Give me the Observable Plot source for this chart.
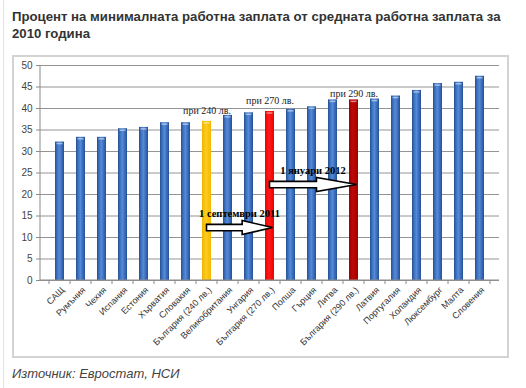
<!DOCTYPE html>
<html><head><meta charset="utf-8">
<script src="https://cdn.jsdelivr.net/npm/d3@7"></script>
<script src="https://cdn.jsdelivr.net/npm/@observablehq/plot@0.6"></script>
<style>
html,body{margin:0;padding:0;background:#fff;}
body{width:526px;height:388px;position:relative;overflow:hidden;font-family:"Liberation Sans",Arial,sans-serif;}
#edge{position:absolute;left:3px;top:0;width:1px;height:388px;background:#e4e4e4;}
#title{position:absolute;left:12px;top:8px;white-space:nowrap;font-weight:bold;font-size:13.2px;line-height:17px;color:#333;}
#chart{position:absolute;left:12px;top:55px;}
#frame{position:absolute;left:12px;top:55px;width:497px;height:303px;box-sizing:border-box;border:2px solid #d3d3d3;pointer-events:none;}
#caption{position:absolute;left:12px;top:366px;font-style:italic;font-size:13px;line-height:15px;color:#444;white-space:nowrap;}
</style></head>
<body>
<div id="edge"></div>
<div id="title">Процент на минималната работна заплата от средната работна заплата за<br>2010 година</div>
<div id="chart"></div>
<div id="frame"></div>
<div id="caption">Източник: Евростат, НСИ</div>
<script>
const categories = ["САЩ","Румъния","Чехия","Испания","Естония","Хърватия","Словакия","България (240 лв.)","Великобритания","Унгария","България (270 лв.)","Полша","Гърция","Литва","България (290 лв.)","Латвия","Португалия","Холандия","Люксембург","Малта","Словения"];
const values = [32.2,33.3,33.3,35.3,35.6,36.7,36.7,37.0,38.4,39.0,39.3,39.8,40.4,42.0,42.0,42.2,42.9,44.2,45.8,46.1,47.5];
const yTicks = [0,5,10,15,20,25,30,35,40,45,50];

const noteLabels = ["при 240 лв.","при 270 лв.","при 290 лв."];
const noteCountries = ["България (240 лв.)","България (270 лв.)","България (290 лв.)"];
const noteY = [39.5,41.9,43.4];

const arrowLabels = ["1 септември 2011","1 януари 2012"];
const arrowFrom = ["България (240 лв.)","България (270 лв.)"];
const arrowTo = ["България (270 лв.)","България (290 лв.)"];
const arrowY = [12.2,22.2];
const arrowLabelY = [15.5,25.6];

const data = categories.map((c,i)=>({country:c, value:values[i]}));
const notes = noteLabels.map((t,i)=>({text:t, country:noteCountries[i], y:noteY[i]}));
const arrows = arrowLabels.map((t,i)=>({text:t, from:arrowFrom[i], to:arrowTo[i], y:arrowY[i], labelY:arrowLabelY[i]}));

const special = {"България (240 лв.)":"url(#gYellow)","България (270 лв.)":"url(#gRed)","България (290 лв.)":"url(#gDark)"};

function defs() {
  const d = d3.create("svg:defs");
  const mk = (id, stops) => {
    const g = d.append("linearGradient").attr("id", id).attr("x1","0").attr("x2","1").attr("y1","0").attr("y2","0");
    stops.forEach(([o,c]) => g.append("stop").attr("offset", o).attr("stop-color", c));
  };
  mk("gBlue", [[0,"#26508f"],[0.3,"#4379c8"],[0.5,"#5389d8"],[0.8,"#3667b5"],[1,"#26508f"]]);
  mk("gYellow", [[0,"#f0b400"],[0.45,"#ffcc20"],[1,"#f2b600"]]);
  mk("gRed", [[0,"#ee0000"],[0.45,"#ff1a1a"],[1,"#ee0000"]]);
  mk("gDark", [[0,"#a30000"],[0.45,"#c00808"],[1,"#a00000"]]);
  return d.node();
}

function decor(index, scales, values, dimensions) {
  const x = scales.x, y = scales.y;
  const {width, height, marginLeft, marginRight, marginTop, marginBottom} = dimensions;
  const bw = x.bandwidth(), step = x.step();
  const g = d3.create("svg:g");
  const yb = height - marginBottom;
  g.append("line").attr("x1", marginLeft).attr("x2", marginLeft).attr("y1", marginTop).attr("y2", yb).attr("stroke", "#8a8a8a");
  g.append("line").attr("x1", marginLeft).attr("x2", width - marginRight).attr("y1", yb).attr("y2", yb).attr("stroke", "#8a8a8a");
  const bounds = categories.map(c => x(c) + bw/2 - step/2);
  bounds.push(x(categories[categories.length-1]) + bw/2 + step/2);
  bounds.forEach(b => g.append("line").attr("x1", b).attr("x2", b).attr("y1", yb).attr("y2", yb + 4).attr("stroke", "#8a8a8a"));
  arrows.forEach(a => {
    const xs = x(a.from) + bw/2, xe = x(a.to) + bw/2 + 3;
    const yc = y(a.y);
    const L = xe - xs, hx = xe - L*0.46;
    const sh = 3.2, hh = 7;
    const pts = [[xs,yc-sh],[hx,yc-sh],[hx,yc-hh],[xe,yc],[hx,yc+hh],[hx,yc+sh],[xs,yc+sh]];
    g.append("polygon").attr("points", pts.map(p => p.join(",")).join(" "))
      .attr("fill", "#fff").attr("stroke", "#000").attr("stroke-width", 1.6).attr("stroke-linejoin", "miter");
    g.append("text").attr("x", (xs+xe)/2).attr("y", y(a.labelY)).attr("dy", "0.35em")
      .attr("text-anchor", "middle").attr("font-family", "Liberation Serif, Times New Roman, serif")
      .attr("font-weight", "bold").attr("font-size", 10.5).attr("fill", "#000").text(a.text);
  });
  return g.node();
}

const plot = Plot.plot({
  width: 497, height: 303,
  marginLeft: 28, marginRight: 10, marginTop: 10, marginBottom: 78,
  style: {background: "transparent", fontFamily: "Liberation Sans, Arial, sans-serif", color: "#333"},
  x: {type: "band", domain: categories, paddingInner: 0.58, paddingOuter: 0.29, label: null},
  y: {domain: [0, 50], label: null},
  marks: [
    defs,
    Plot.gridY(yTicks, {stroke: "#949494", strokeOpacity: 1}),
    Plot.barY(data.filter(d => !special[d.country]), {x: "country", y: "value", fill: "url(#gBlue)"}),
    ...Object.keys(special).map(k => Plot.barY(data.filter(d => d.country === k), {x: "country", y: "value", fill: special[k]})),
    Plot.tickY(data, {x: "country", y: "value", stroke: "#ffffff", strokeOpacity: 0.5, strokeWidth: 1.5, dy: 1.5, inset: 1.5}),
    Plot.axisY({ticks: yTicks, tickSize: 4, tickPadding: 4, fontSize: 10, stroke: "#8a8a8a", fill: "#444"}),
    Plot.axisX({tickRotate: -45, tickSize: 0, tickPadding: 8, fontSize: 9, dx: 3, fill: "#333"}),
    decor,
    Plot.text(notes, {x: "country", y: "y", text: "text", fontFamily: "Liberation Serif, Times New Roman, serif", fontSize: 10, fill: "#222"})
  ]
});
document.getElementById("chart").appendChild(plot);
</script>
</body></html>
